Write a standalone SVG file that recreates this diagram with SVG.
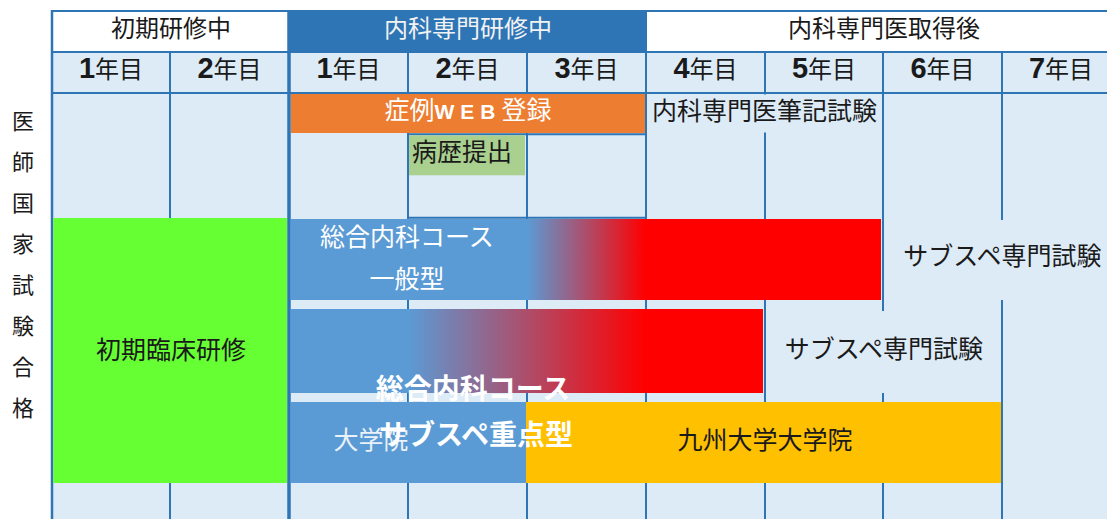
<svg xmlns="http://www.w3.org/2000/svg" width="1107" height="519" viewBox="0 0 1107 519">
<defs>
<linearGradient id="g1" gradientUnits="userSpaceOnUse" x1="527" y1="0" x2="645" y2="0"><stop offset="0" stop-color="#5B9BD5"/><stop offset="1" stop-color="#FF0000"/></linearGradient>
<linearGradient id="g2" gradientUnits="userSpaceOnUse" x1="408" y1="0" x2="645" y2="0"><stop offset="0" stop-color="#5B9BD5"/><stop offset="1" stop-color="#FF0000"/></linearGradient>
<style>
.t{font-family:"Noto Sans CJK JP","Noto Sans CJK SC",sans-serif;font-size:25px;fill:#1a1a1a}
.h{font-size:24px}
.v{font-size:22px;text-anchor:middle}
.c{text-anchor:middle}
.w{fill:#ffffff}
.b{font-weight:bold;font-size:28px}
.num{font-family:"Liberation Sans Narrow","Liberation Sans",sans-serif;font-weight:bold;font-size:29px}
.ln{stroke:#2E75B6;stroke-width:2;fill:none}
.bg{fill:#DDEBF7}
</style>
</defs>
<rect x="0" y="0" width="1107" height="519" fill="#ffffff"/>
<rect class="bg" x="52" y="52" width="1055" height="467"/>

<g id="header">
  <rect x="289" y="11" width="357" height="41" fill="#2E75B6"/>
  <text class="t h c" x="171" y="37">初期研修中</text>
  <text class="t h c" x="468" y="37" style="fill:#F2F2F2">内科専門研修中</text>
  <text class="t h c" x="884" y="37">内科専門医取得後</text>
</g>

<g id="years">
  <text class="t h c" x="111" y="78"><tspan class="num">1</tspan>年目</text>
  <text class="t h c" x="229.5" y="78"><tspan class="num">2</tspan>年目</text>
  <text class="t h c" x="348.5" y="78"><tspan class="num">1</tspan>年目</text>
  <text class="t h c" x="467.5" y="78"><tspan class="num">2</tspan>年目</text>
  <text class="t h c" x="586.5" y="78"><tspan class="num">3</tspan>年目</text>
  <text class="t h c" x="705.5" y="78"><tspan class="num">4</tspan>年目</text>
  <text class="t h c" x="824" y="78"><tspan class="num">5</tspan>年目</text>
  <text class="t h c" x="942.5" y="78"><tspan class="num">6</tspan>年目</text>
  <text class="t h c" x="1061" y="78"><tspan class="num">7</tspan>年目</text>
</g>

<g id="grid">
  <line class="ln" x1="51" y1="11" x2="1107" y2="11"/>
  <line class="ln" x1="51" y1="52" x2="1107" y2="52"/>
  <line class="ln" x1="51" y1="93" x2="1107" y2="93"/>
  <line class="ln" x1="52" y1="10" x2="52" y2="519" style="stroke-width:2.5"/>
  <line class="ln" x1="170" y1="52" x2="170" y2="519"/>
  <line class="ln" x1="289" y1="10" x2="289" y2="519" style="stroke-width:3.5"/>
  <line class="ln" x1="408" y1="52" x2="408" y2="519"/>
  <line class="ln" x1="527" y1="52" x2="527" y2="519"/>
  <line class="ln" x1="646" y1="10" x2="646" y2="519"/>
  <line class="ln" x1="765" y1="52" x2="765" y2="519"/>
  <line class="ln" x1="883" y1="52" x2="883" y2="519"/>
  <line class="ln" x1="1002" y1="52" x2="1002" y2="519"/>
  <line class="ln" x1="407" y1="134.3" x2="647" y2="134.3"/>
  <line class="ln" x1="407" y1="217.7" x2="647" y2="217.7"/>
</g>

<g id="vertical-label">
  <text class="t v" x="23" y="129.4">医</text>
  <text class="t v" x="23" y="170.4">師</text>
  <text class="t v" x="23" y="211.4">国</text>
  <text class="t v" x="23" y="252.4">家</text>
  <text class="t v" x="23" y="293.4">試</text>
  <text class="t v" x="23" y="334.4">験</text>
  <text class="t v" x="23" y="375.4">合</text>
  <text class="t v" x="23" y="416.4">格</text>
</g>

<g id="shoki-rinsho">
  <rect x="53.3" y="218" width="233.7" height="265" fill="#66FF33"/>
  <text class="t c" x="171" y="358.5">初期臨床研修</text>
</g>

<g id="web-toroku">
  <rect x="291" y="94" width="354" height="39" fill="#ED7D31"/>
  <text class="t c w" x="468" y="118.5">症例<tspan font-family="Liberation Sans Narrow, Liberation Sans, sans-serif" font-weight="bold" font-size="21" letter-spacing="6">WEB</tspan>登録</text>
</g>

<g id="byoreki">
  <rect x="409" y="135.3" width="116" height="40" fill="#A9D08E"/>
  <text class="t" x="412" y="160.5">病歴提出</text>
</g>

<g id="hikki-shiken">
  <rect class="bg" x="648" y="94.5" width="232" height="38"/>
  <text class="t c" x="764.5" y="119.5">内科専門医筆記試験</text>
</g>

<g id="course-ippan">
  <rect x="291" y="219" width="590" height="81" fill="url(#g1)"/>
  <text class="t c w" x="407" y="245.5">総合内科コース</text>
  <text class="t c w" x="407" y="287.5">一般型</text>
</g>

<g id="subspe-shiken-1">
  <rect class="bg" x="886" y="220" width="221" height="80"/>
  <text class="t c" x="1002.5" y="264.5">サブスペ専門試験</text>
</g>

<g id="course-subspe">
  <rect x="291" y="309" width="472" height="84" fill="url(#g2)"/>
</g>

<g id="subspe-shiken-2">
  <rect class="bg" x="767" y="311" width="233" height="82"/>
  <text class="t c" x="884" y="357.5">サブスペ専門試験</text>
</g>

<g id="daigakuin">
  <rect x="291" y="402" width="235" height="81" fill="#5B9BD5"/>
  <text class="t c" x="371" y="448.5" style="fill:#EAF1F8">大学院</text>
</g>

<g id="kyushu-daigakuin">
  <rect x="526" y="402" width="475" height="81" fill="#FFC000"/>
  <text class="t c" x="765" y="448.5">九州大学大学院</text>
</g>

<g id="course-subspe-label">
  <text class="t c w b" x="473" y="398.6">総合内科コース</text>
  <text class="t c w b" x="476" y="444.6">サブスペ重点型</text>
</g>
</svg>
